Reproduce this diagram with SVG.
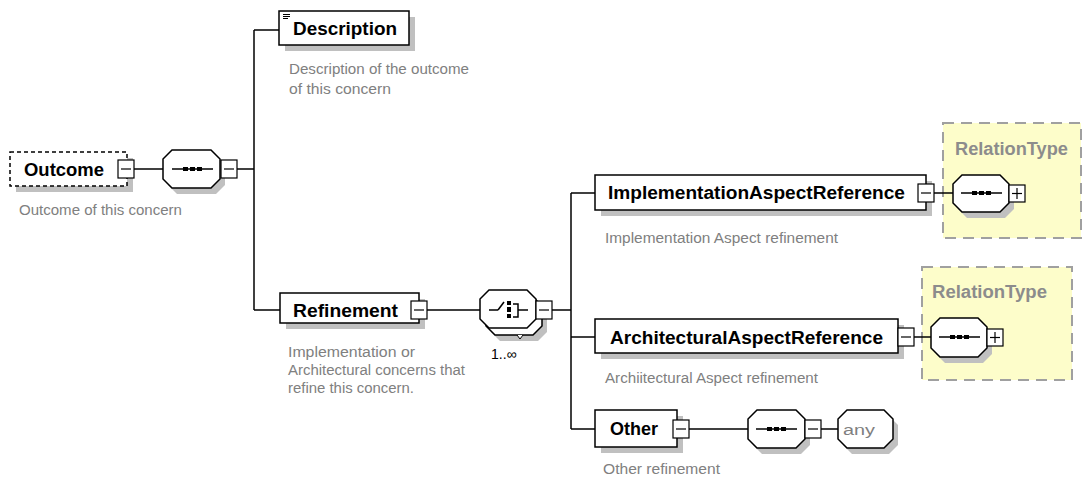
<svg xmlns="http://www.w3.org/2000/svg" xmlns:xlink="http://www.w3.org/1999/xlink" width="1083" height="477" viewBox="0 0 1083 477">
<style>
.bg{fill:#ffffff}
.box{fill:#ffffff;stroke:#000;stroke-width:1.5}
.dbox{fill:#ffffff;stroke:#000;stroke-width:1.5;stroke-dasharray:4 3}
.sh{fill:#c0c0c0;stroke:none}
.oct{fill:#ffffff;stroke:#000;stroke-width:1.5}
.btn{fill:#ffffff;stroke:#000;stroke-width:1.2}
.bl{stroke:#000;stroke-width:1.2;fill:none}
.conn{stroke:#000;stroke-width:1.5;fill:none}
.name{font-family:"Liberation Sans",Arial,sans-serif;font-weight:bold;font-size:18px;fill:#000}
.doc{font-family:"Liberation Sans",Arial,sans-serif;font-size:14px;fill:#808080}
.rt{fill:#fdfdca;stroke:#a0a0a0;stroke-width:2;stroke-dasharray:11 7}
.rtname{font-family:"Liberation Sans",Arial,sans-serif;font-weight:bold;font-size:18px;fill:#8c8c8c}
.mult{font-family:"Liberation Sans",Arial,sans-serif;font-size:14px;fill:#000}
</style>
<defs>
<g id="seqsym">
<line x1="-20" y1="0" x2="21" y2="0" stroke="#000" stroke-width="1.5"/>
<rect x="-9" y="-2" width="5" height="4" fill="#000"/>
<rect x="-2" y="-2" width="5" height="4" fill="#000"/>
<rect x="5" y="-2" width="5" height="4" fill="#000"/>
</g>
<g id="minusbtn">
<rect x="0" y="0" width="16" height="18" class="btn"/>
<line x1="3" y1="9" x2="13" y2="9" class="bl"/>
</g>
<g id="plusbtn">
<rect x="0" y="0" width="16" height="17" class="btn"/>
<line x1="3" y1="8.5" x2="13" y2="8.5" class="bl"/>
<line x1="8" y1="3" x2="8" y2="14" class="bl"/>
</g>
</defs>
<rect x="0" y="0" width="1083" height="477" class="bg"/>

<g id="relationtype-1">
<rect x="943" y="123" width="138" height="115" class="rt"/>
<text x="955" y="155" class="rtname" textLength="113" lengthAdjust="spacingAndGlyphs">RelationType</text>
</g>
<g id="relationtype-2">
<rect x="922" y="267" width="150" height="113" class="rt"/>
<text x="932" y="298" class="rtname" textLength="115" lengthAdjust="spacingAndGlyphs">RelationType</text>
</g>

<g id="connectors">
<line x1="134" y1="169" x2="163" y2="169" class="conn"/>
<line x1="237" y1="169" x2="254" y2="169" class="conn"/>
<line x1="254" y1="30" x2="254" y2="310" class="conn"/>
<line x1="254" y1="30" x2="279" y2="30" class="conn"/>
<line x1="254" y1="310" x2="280" y2="310" class="conn"/>
<line x1="427" y1="310" x2="480" y2="310" class="conn"/>
<line x1="552" y1="310" x2="571" y2="310" class="conn"/>
<line x1="571" y1="193" x2="571" y2="429" class="conn"/>
<line x1="571" y1="193" x2="595" y2="193" class="conn"/>
<line x1="571" y1="337" x2="595" y2="337" class="conn"/>
<line x1="571" y1="429" x2="595" y2="429" class="conn"/>
<line x1="934" y1="193" x2="953" y2="193" class="conn"/>
<line x1="914" y1="337" x2="931" y2="337" class="conn"/>
<line x1="689" y1="429" x2="748" y2="429" class="conn"/>
<line x1="821" y1="429" x2="838" y2="429" class="conn"/>
</g>

<g id="outcome">
<rect x="16" y="158" width="117" height="34" class="sh"/>
<rect x="10" y="152" width="117" height="34" class="dbox"/>
<text x="24" y="176" class="name" textLength="80" lengthAdjust="spacingAndGlyphs">Outcome</text>
<use xlink:href="#minusbtn" href="#minusbtn" x="118" y="160"/>
<text x="19" y="215" class="doc" textLength="163" lengthAdjust="spacingAndGlyphs">Outcome of this concern</text>
</g>

<g id="outcome-sequence">
<path d="M177,156 H216 L225,165 V185 L216,194 H177 L168,185 V165 Z" class="sh"/>
<path d="M172,150 H211 L220,159 V179 L211,188 H172 L163,179 V159 Z" class="oct"/>
<use xlink:href="#seqsym" href="#seqsym" x="192" y="169"/>
<use xlink:href="#minusbtn" href="#minusbtn" x="221" y="160"/>
</g>

<g id="description">
<rect x="285" y="17" width="130" height="34" class="sh"/>
<rect x="279" y="11" width="130" height="34" class="box"/>
<line x1="283" y1="14.5" x2="290" y2="14.5" stroke="#000" stroke-width="1"/>
<line x1="283" y1="16.5" x2="290" y2="16.5" stroke="#000" stroke-width="1"/>
<line x1="283" y1="18.5" x2="288" y2="18.5" stroke="#000" stroke-width="1"/>
<text x="293" y="35" class="name" textLength="104" lengthAdjust="spacingAndGlyphs">Description</text>
<text x="289" y="74" class="doc" textLength="180" lengthAdjust="spacingAndGlyphs">Description of the outcome</text>
<text x="289" y="94" class="doc" textLength="102" lengthAdjust="spacingAndGlyphs">of this concern</text>
</g>

<g id="refinement">
<rect x="286" y="299" width="139" height="30" class="sh"/>
<rect x="280" y="293" width="139" height="30" class="box"/>
<text x="293" y="317" class="name" textLength="105" lengthAdjust="spacingAndGlyphs">Refinement</text>
<use xlink:href="#minusbtn" href="#minusbtn" x="411" y="301"/>
<text x="288" y="357" class="doc" textLength="127" lengthAdjust="spacingAndGlyphs">Implementation or</text>
<text x="288" y="375" class="doc" textLength="177" lengthAdjust="spacingAndGlyphs">Architectural concerns that</text>
<text x="288" y="393" class="doc" textLength="126" lengthAdjust="spacingAndGlyphs">refine this concern.</text>
</g>

<g id="refinement-choice">
<path d="M500,303 H538 L547,312 V332 L538,341 H500 L491,332 V312 Z" class="sh"/>
<path d="M495,297 H533 L542,306 V326 L533,335 H495 L486,326 V306 Z" class="oct"/>
<path d="M517,335 L520,339 L523,335" fill="#fff" stroke="#000" stroke-width="1"/>
<path d="M489,290 H527 L536,299 V319 L527,328 H489 L480,319 V299 Z" class="oct"/>
<line x1="489" y1="310" x2="498" y2="310" stroke="#000" stroke-width="1.5"/>
<line x1="498" y1="310" x2="504" y2="302" stroke="#000" stroke-width="1.5"/>
<rect x="507" y="301" width="4" height="4" fill="#000"/>
<rect x="507" y="307" width="4" height="5" fill="#000"/>
<rect x="507" y="314" width="4" height="4" fill="#000"/>
<path d="M513,304 H518 V317 H513" fill="none" stroke="#000" stroke-width="1.5"/>
<line x1="518" y1="310" x2="528" y2="310" stroke="#000" stroke-width="1.5"/>
<use xlink:href="#minusbtn" href="#minusbtn" x="536" y="301"/>
<text x="491" y="359" class="mult">1..∞</text>
</g>

<g id="implementation-aspect-reference">
<rect x="601" y="181" width="331" height="35" class="sh"/>
<rect x="595" y="175" width="331" height="35" class="box"/>
<text x="608" y="199" class="name" textLength="297" lengthAdjust="spacingAndGlyphs">ImplementationAspectReference</text>
<use xlink:href="#minusbtn" href="#minusbtn" x="918" y="184"/>
<text x="605" y="243" class="doc" textLength="233" lengthAdjust="spacingAndGlyphs">Implementation Aspect refinement</text>
</g>

<g id="implementation-sequence">
<path d="M967,181 H1005 L1014,190 V209 L1005,218 H967 L958,209 V190 Z" class="sh"/>
<path d="M962,175 H1000 L1009,184 V203 L1000,212 H962 L953,203 V184 Z" class="oct"/>
<use xlink:href="#seqsym" href="#seqsym" x="981" y="193"/>
<use xlink:href="#plusbtn" href="#plusbtn" x="1009" y="185"/>
</g>

<g id="architectural-aspect-reference">
<rect x="601" y="325" width="303" height="34" class="sh"/>
<rect x="595" y="319" width="303" height="34" class="box"/>
<text x="610" y="344" class="name" textLength="273" lengthAdjust="spacingAndGlyphs">ArchitecturalAspectReference</text>
<use xlink:href="#minusbtn" href="#minusbtn" x="898" y="328"/>
<text x="605" y="383" class="doc" textLength="213" lengthAdjust="spacingAndGlyphs">Archiitectural Aspect refinement</text>
</g>

<g id="architectural-sequence">
<path d="M945,324 H983 L992,333 V354 L983,363 H945 L936,354 V333 Z" class="sh"/>
<path d="M940,318 H978 L987,327 V348 L978,357 H940 L931,348 V327 Z" class="oct"/>
<use xlink:href="#seqsym" href="#seqsym" x="959" y="337"/>
<use xlink:href="#plusbtn" href="#plusbtn" x="987" y="329"/>
</g>

<g id="other">
<rect x="601" y="416" width="82" height="37" class="sh"/>
<rect x="595" y="410" width="82" height="37" class="box"/>
<text x="610" y="435" class="name" textLength="48" lengthAdjust="spacingAndGlyphs">Other</text>
<use xlink:href="#minusbtn" href="#minusbtn" x="673" y="420"/>
<text x="603" y="474" class="doc" textLength="117" lengthAdjust="spacingAndGlyphs">Other refinement</text>
</g>

<g id="other-sequence">
<path d="M762,416 H801 L810,425 V445 L801,454 H762 L753,445 V425 Z" class="sh"/>
<path d="M757,410 H796 L805,419 V439 L796,448 H757 L748,439 V419 Z" class="oct"/>
<use xlink:href="#seqsym" href="#seqsym" x="776" y="429"/>
<use xlink:href="#minusbtn" href="#minusbtn" x="805" y="420"/>
</g>

<g id="any">
<path d="M852,416 H889 L898,425 V445 L889,454 H852 L843,445 V425 Z" class="sh"/>
<path d="M847,410 H884 L893,419 V439 L884,448 H847 L838,439 V419 Z" class="oct"/>
<text x="843" y="435" class="doc" textLength="32" lengthAdjust="spacingAndGlyphs">any</text>
</g>
</svg>
